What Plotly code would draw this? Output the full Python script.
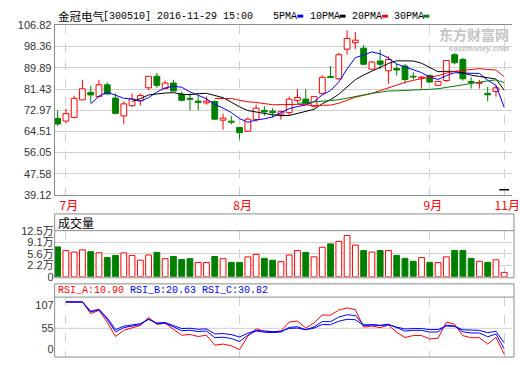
import plotly.graph_objects as go
import pandas as pd

# ---------------- data ----------------
title_name = "金冠电气"
title_info = "[300510] 2016-11-29 15:00"
ma_labels = ["5PMA", "10PMA", "20PMA", "30PMA"]
ma_periods = [5, 10, 20, 30]
month_idx = [1, 22, 45, 54]
month_text = ["7月", "8月", "9月", "11月"]
price_ticks = [39.12, 47.58, 56.05, 64.51, 72.97, 81.43, 89.89, 98.36, 106.82]
vol_tick_text = ["0", "2.2万", "5.6万", "9.1万", "12.5万"]
rsi_tick_text = ["107", "55", "0"]
rsi_names = ["RSI_A", "RSI_B", "RSI_C"]
rsi_periods = [6, 12, 24]
rsi_last = [10.90, 20.63, 30.82]

opens = [69.7, 68.65, 70.1, 77.1, 80.1, 78.4, 83.1, 77.8, 70.7, 74.8,
         76.75, 81.9, 86.5, 81.6, 83.8, 79.4, 77.7, 76.6, 75.9, 76.5,
         69.0, 68.6, 66.1, 64.6, 69.2, 72.9, 72.6, 71.4, 72.0, 76.9,
         77.4, 74.6, 79.7, 86.4, 85.5, 97.3, 99.9, 97.7, 89.35, 92.6,
         88.7, 89.6, 90.6, 86.5, 85.9, 86.8, 82.9, 84.8, 95.1, 93.2,
         84.4, 83.7, 79.7, 80.4, 41.2]
highs = [72.9, 73.55, 78.7, 85.1, 82.7, 85.1, 84.07, 79.7, 76.5, 79.7,
         79.7, 86.5, 87.8, 84.8, 85.1, 80.4, 79.7, 79.1, 78.4, 76.9,
         71.6, 70.7, 66.1, 70.1, 75.2, 74.6, 73.8, 72.7, 78.4, 81.4,
         81.3, 78.4, 86.8, 90.6, 95.8, 104.8, 104.1, 99.0, 92.6, 97.1,
         94.5, 91.5, 91.5, 88.1, 86.4, 87.2, 84.7, 92.8, 95.8, 93.9,
         86.1, 85.1, 82.3, 82.9, 41.2]
lows = [66.7, 67.9, 69.7, 77.0, 75.9, 78.05, 79.4, 71.35, 67.5, 74.2,
        74.8, 81.0, 81.9, 81.6, 80.6, 76.5, 72.9, 72.9, 75.2, 69.2,
        65.2, 67.3, 61.3, 64.3, 68.4, 70.7, 70.1, 69.2, 70.7, 75.9,
        75.5, 73.9, 79.4, 86.0, 85.1, 95.1, 97.3, 90.9, 89.35, 89.35,
        83.6, 86.8, 83.6, 85.2, 81.6, 84.2, 82.9, 84.3, 91.3, 84.8,
        81.6, 81.6, 76.5, 78.4, 41.2]
closes = [67.5, 71.6, 77.7, 81.5, 79.06, 83.1, 79.4, 71.7, 75.5, 77.4,
          78.8, 86.5, 82.9, 83.8, 80.6, 76.9, 77.3, 76.1, 76.6, 69.4,
          69.8, 68.2, 64.0, 69.4, 73.8, 72.3, 72.0, 72.4, 77.4, 78.05,
          75.5, 78.4, 86.1, 86.0, 95.1, 101.6, 100.9, 91.3, 92.2, 91.3,
          93.2, 89.0, 85.2, 86.2, 86.2, 84.2, 84.45, 92.8, 91.9, 85.5,
          84.0, 84.0, 79.1, 81.9, 41.2]
# volume in 万 shares
volumes = [8.1, 7.1, 6.7, 7.3, 6.8, 6.5, 5.2, 5.8, 6.5, 5.8,
           4.5, 5.9, 6.6, 4.9, 5.5, 4.7, 4.9, 3.9, 3.85, 5.5,
           4.9, 3.9, 3.9, 5.4, 6.1, 5.0, 4.5, 4.1, 5.9, 7.1,
           6.6, 5.4, 8.0, 8.9, 9.6, 11.2, 8.6, 7.1, 6.7, 7.1,
           7.1, 5.8, 5.0, 4.2, 5.2, 3.9, 3.85, 5.4, 7.1, 7.1,
           5.0, 4.2, 3.9, 4.6, 1.2]
vol_up = [0, 1, 1, 1, 0, 1, 0, 0, 1, 1,
          1, 1, 0, 1, 0, 0, 0, 1, 1, 0,
          1, 0, 0, 1, 1, 0, 0, 1, 1, 1,
          0, 1, 1, 0, 1, 1, 1, 0, 1, 0,
          1, 0, 0, 0, 1, 0, 1, 1, 0, 0,
          0, 1, 0, 1, 1]

# ---------------- styles ----------------
RED = "#ff0000"
GREEN = "#008000"
BLUE = "#0000ff"
GRID = "#d0d0d0"
BORDER = "#8c8c8c"
ma_colors = [BLUE, "#000000", RED, GREEN]
rsi_colors = [RED, BLUE, BLUE]
W, H = 520, 365
MONO = "Liberation Mono, Noto Sans CJK SC"
CJK = "Noto Sans CJK SC"
SANS = "Liberation Sans, Arial"

def px(x):
    return x / W

def py(y):
    return 1 - y / H

n = len(closes)
idx = list(range(n))
x_range = [-0.36, 54.94]
x_dom = [px(55.5), 1.0]

fig = go.Figure()

# ---------- candles ----------
up_x, up_b, up_h = [], [], []
dn_x, dn_b, dn_h = [], [], []
wr_x, wr_y, wg_x, wg_y = [], [], [], []
flat_x, flat_y = [], []
for i in idx:
    o, h, l, c = opens[i], highs[i], lows[i], closes[i]
    if h == l:
        flat_x.append(i)
        flat_y.append(c)
        continue
    top, bot = max(o, c), min(o, c)
    body = max(top - bot, 0.3)
    if c > o:
        up_x.append(i); up_b.append(bot); up_h.append(body)
        wx, wy = wr_x, wr_y
    else:
        dn_x.append(i); dn_b.append(bot); dn_h.append(body)
        wx, wy = wg_x, wg_y
    if h > top:
        wx += [i, i, None]; wy += [top, h, None]
    if l < bot:
        wx += [i, i, None]; wy += [bot, l, None]

fig.add_trace(go.Bar(x=up_x, y=up_h, base=up_b, width=0.7,
                     marker=dict(color="white", line=dict(color=RED, width=1)),
                     xaxis="x", yaxis="y", hoverinfo="skip"))
fig.add_trace(go.Bar(x=dn_x, y=dn_h, base=dn_b, width=0.7,
                     marker=dict(color=GREEN, line=dict(color=GREEN, width=1)),
                     xaxis="x", yaxis="y", hoverinfo="skip"))
fig.add_trace(go.Scatter(x=wr_x, y=wr_y, mode="lines", line=dict(color=RED, width=1),
                         xaxis="x", yaxis="y", hoverinfo="skip"))
fig.add_trace(go.Scatter(x=wg_x, y=wg_y, mode="lines", line=dict(color=GREEN, width=1),
                         xaxis="x", yaxis="y", hoverinfo="skip"))
fig.add_trace(go.Scatter(x=flat_x, y=flat_y, mode="markers",
                         marker=dict(symbol="line-ew", size=7, line=dict(color="black", width=1.5)),
                         xaxis="x", yaxis="y", hoverinfo="skip"))

# ---------- moving averages ----------
cs = pd.Series(closes)
for p, col in zip(ma_periods, ma_colors):
    ma = cs.rolling(p).mean()
    fig.add_trace(go.Scatter(x=idx, y=ma, mode="lines", line=dict(color=col, width=1),
                             xaxis="x", yaxis="y", hoverinfo="skip"))

# ---------- volume ----------
vr_x = [i for i in idx if vol_up[i]]
vg_x = [i for i in idx if not vol_up[i]]
fig.add_trace(go.Bar(x=vr_x, y=[volumes[i] for i in vr_x], width=0.7,
                     marker=dict(color="white", line=dict(color=RED, width=1)),
                     xaxis="x2", yaxis="y2", hoverinfo="skip"))
fig.add_trace(go.Bar(x=vg_x, y=[volumes[i] for i in vg_x], width=0.7,
                     marker=dict(color=GREEN, line=dict(color=GREEN, width=1)),
                     xaxis="x2", yaxis="y2", hoverinfo="skip"))

# ---------- RSI (SMA style, first bar change = 0) ----------
def cn_sma(vals, n_):
    out, prev = [], None
    for v in vals:
        prev = v if prev is None else (v + (n_ - 1) * prev) / n_
        out.append(prev)
    return out

diffs = [0.0] + [closes[i] - closes[i - 1] for i in range(1, n)]
ups = [max(d, 0) for d in diffs]
absd = [abs(d) for d in diffs]
for p, col in zip(rsi_periods, rsi_colors):
    su, sa = cn_sma(ups, p), cn_sma(absd, p)
    rsi = [u / a * 100 if a else None for u, a in zip(su, sa)]
    fig.add_trace(go.Scatter(x=idx[1:], y=rsi[1:], mode="lines", line=dict(color=col, width=1),
                             xaxis="x3", yaxis="y3", hoverinfo="skip"))

# ---------- axes ----------
main_dom = [py(195.5), py(20)]
vol_dom = [py(280), py(232.3)]
rsi_dom = [py(363), py(301)]
vol_range = [0, 12.5]
vol_tickvals = [0, 3.125, 6.25, 9.375, 12.5]
rsi_range = [5.9, 108.3]
rsi_tickvals = [94.6, 55, 19.1]

xcommon = dict(range=x_range, domain=x_dom, tickvals=month_idx, showgrid=True,
               gridcolor=GRID, griddash="dash", zeroline=False, ticks="")
fig.update_layout(
    width=W, height=H, margin=dict(l=0, r=0, t=0, b=0),
    paper_bgcolor="white", plot_bgcolor="white", showlegend=False,
    barmode="overlay",
    xaxis=dict(**xcommon, anchor="y", ticktext=month_text, ticklabeloverflow="allow",
               ticklabelshift=3,
               tickfont=dict(color=RED, size=12, family=CJK),
               showline=True, linecolor=BORDER, mirror=True),
    yaxis=dict(domain=main_dom, range=[price_ticks[0], price_ticks[-1]], tickvals=price_ticks,
               ticktext=[f"{v:.2f}" for v in price_ticks], anchor="x", ticklabeloverflow="allow",
               gridcolor=GRID, zeroline=False, showline=True, linecolor=BORDER, mirror=False,
               tickfont=dict(size=11, color="#333333", family=SANS), ticks=""),
    xaxis2=dict(**xcommon, anchor="y2", showticklabels=False),
    yaxis2=dict(domain=vol_dom, range=vol_range, tickvals=vol_tickvals, ticktext=vol_tick_text,
                anchor="x2", gridcolor=GRID, zeroline=False, showline=False, ticklabeloverflow="allow",
                tickfont=dict(size=11, color="#333333", family=SANS + ", " + CJK), ticks=""),
    xaxis3=dict(**xcommon, anchor="y3", showticklabels=False),
    yaxis3=dict(domain=rsi_dom, range=rsi_range, tickvals=rsi_tickvals, ticktext=rsi_tick_text,
                anchor="x3", showgrid=False, zeroline=False, showline=False, ticklabeloverflow="allow",
                tickfont=dict(size=11, color="#333333", family=SANS), ticks=""),
)

shapes = []
# volume panel box + header separator
shapes.append(dict(type="rect", xref="paper", yref="paper", x0=px(55.5), x1=px(522),
                   y0=py(281), y1=py(215), line=dict(color=BORDER, width=1)))
shapes.append(dict(type="line", xref="paper", yref="paper", x0=px(55.5), x1=px(522),
                   y0=py(232.3), y1=py(232.3), line=dict(color=BORDER, width=1)))
# RSI panel box + header separator
shapes.append(dict(type="rect", xref="paper", yref="paper", x0=px(55.5), x1=px(522),
                   y0=py(363), y1=py(287.3), line=dict(color=BORDER, width=1)))
shapes.append(dict(type="line", xref="paper", yref="paper", x0=px(55.5), x1=px(522),
                   y0=py(301), y1=py(301), line=dict(color=BORDER, width=1)))
# RSI 55 grid
shapes.append(dict(type="line", xref="x3", yref="y3", x0=x_range[0], x1=x_range[1],
                   y0=55, y1=55, line=dict(color=GRID, width=1), layer="below"))
# legend swatches
sw_x = [302, 345, 388, 430]
for sx, col in zip(sw_x, ma_colors):
    shapes.append(dict(type="rect", xref="paper", yref="paper", x0=px(sx), x1=px(sx + 6),
                       y0=py(12), y1=py(9), fillcolor=col, line=dict(width=0)))
fig.update_layout(shapes=shapes)

ann = []
ann.append(dict(text=title_name, x=px(56.5), y=py(10.5), xref="paper", yref="paper",
                xanchor="left", yanchor="middle", showarrow=False,
                font=dict(family=CJK, size=11.5, color="black")))
ann.append(dict(text=title_info, x=px(103), y=py(10.5), xref="paper", yref="paper",
                xanchor="left", yanchor="middle", showarrow=False,
                font=dict(family=MONO, size=10, color="black")))
for lx, lab in zip([275, 313, 355, 398], ma_labels):
    ann.append(dict(text=lab, x=px(lx), y=py(10.5), xref="paper", yref="paper",
                    xanchor="left", yanchor="middle", showarrow=False,
                    font=dict(family=MONO, size=10, color="black")))
ann.append(dict(text="成交量", x=px(57), y=py(223.5), xref="paper", yref="paper",
                xanchor="left", yanchor="middle", showarrow=False,
                font=dict(family=CJK, size=12, color="black")))
rsi_txt = " ".join(f"<span style='color:{c}'>{nm}:{v:.2f}</span>"
                   for nm, v, c in zip(rsi_names, rsi_last, rsi_colors))
ann.append(dict(text=rsi_txt, x=px(56.5), y=py(294), xref="paper", yref="paper",
                xanchor="left", yanchor="middle", showarrow=False,
                font=dict(family=MONO, size=10, color="black")))
# watermark
ann.append(dict(text="<b>东方财富网</b>", x=px(519), y=py(29), xref="paper", yref="paper",
                xanchor="right", yanchor="middle", showarrow=False,
                font=dict(family=CJK, size=14, color="#c4c4c4")))
ann.append(dict(text="<b><i>eastmoney.com</i></b>", x=px(519), y=py(44), xref="paper", yref="paper",
                xanchor="right", yanchor="middle", showarrow=False,
                font=dict(family=SANS, size=8, color="#c4c4c4")))
fig.update_layout(annotations=ann)

fig.write_html("out.html", config={"displayModeBar": False, "staticPlot": True},
               post_script="document.body.style.margin='0';document.body.style.overflow='hidden';")
